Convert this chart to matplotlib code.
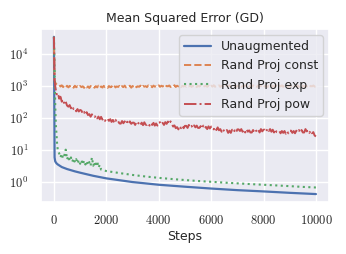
import numpy as np
import matplotlib
matplotlib.use("Agg")
import matplotlib.pyplot as plt
from matplotlib.ticker import FuncFormatter, LogLocator
import seaborn as sns

# steps grid for the noisy curves (every 50 steps)
steps_noisy = [0, 25] + list(range(50, 10001, 50))

pow_mse = [35000, 1500,
           1000, 560, 620, 410, 470, 330, 380, 280, 330, 250,
           230, 259, 205, 241, 193, 203, 165, 194, 163, 182,
           174, 140, 159, 129, 155, 126, 135, 112, 133, 112,
           108, 122, 99, 113, 93, 111, 91, 99, 83, 99,
           97, 83, 94, 77, 89, 74, 90, 74, 81, 69,
           68, 82, 70, 80, 67, 78, 66, 80, 67, 73,
           73, 62, 75, 66, 75, 63, 73, 61, 75, 63,
           62, 69, 59, 71, 62, 72, 59, 69, 59, 74,
           75, 64, 72, 62, 76, 67, 79, 67, 80, 67,
           55, 60, 49, 53, 45, 57, 49, 58, 49, 58,
           58, 50, 62, 53, 58, 50, 60, 52, 59, 50,
           50, 57, 48, 59, 49, 54, 46, 56, 48, 55,
           55, 45, 52, 43, 52, 42, 46, 38, 46, 39,
           38, 43, 35, 41, 35, 44, 37, 42, 36, 45,
           45, 40, 46, 38, 44, 36, 45, 38, 42, 36,
           36, 43, 37, 43, 37, 43, 36, 46, 39, 44,
           44, 38, 47, 40, 46, 38, 44, 36, 45, 37,
           37, 40, 34, 40, 35, 40, 33, 39, 34, 41,
           41, 35, 40, 34, 41, 37, 43, 36, 43, 36,
           36, 46, 39, 42, 35, 41, 34, 37, 29, 27]

const_mse = [35000, 1600,
             1300, 1150, 1080, 1120, 980, 1070, 940, 1050, 930, 1040,
             920, 1030, 950, 1010, 900, 1040, 930, 1000, 910, 1020,
             940, 1000, 890, 1030, 920, 990, 880, 1020, 930, 980,
             900, 1010, 920, 1040, 890, 990, 910, 1030, 940, 980,
             890, 1020, 930, 1000, 900, 1040, 920, 990, 950, 1030,
             910, 1010, 940, 1050, 920, 990, 960, 1040, 900, 1020,
             950, 1060, 930, 1000, 960, 1050, 920, 1030, 970, 1010,
             940, 1060, 960, 1020, 930, 1050, 970, 1000, 950, 1070,
             960, 1040, 980, 1070, 940, 1030, 990, 1060, 950, 1020,
             970, 1080, 950, 1040, 990, 1060, 940, 1030, 980, 1070,
             960, 1050, 990, 1080, 950, 1030, 970, 1060, 940, 1040,
             980, 1070, 950, 1020, 990, 1060, 960, 1040, 930, 1050,
             970, 1080, 960, 1030, 990, 1070, 950, 1040, 980, 1060,
             950, 1050, 990, 1080, 960, 1030, 970, 1070, 940, 1040,
             980, 1060, 950, 1030, 990, 1080, 960, 1050, 970, 1040,
             960, 1070, 980, 1040, 950, 1060, 990, 1030, 960, 1070,
             970, 1050, 940, 1040, 990, 1080, 960, 1030, 980, 1060,
             950, 1040, 990, 1070, 960, 1050, 970, 1030, 940, 1060,
             980, 1070, 960, 1040, 990, 1060, 950, 1030, 970, 1050,
             960, 1040, 980, 1070, 950, 1030, 990, 1060, 970, 1000]

steps_exp = ([0, 25, 50, 75, 100, 125, 150] + list(range(200, 1801, 50))
             + list(range(2000, 10001, 500)))
exp_mse = [35000, 3000, 250, 60, 30, 14, 10,
           8.0, 6.0, 7.8, 5.6, 7.0, 10.5, 5.2, 6.6, 4.7, 6.0, 4.4, 5.6, 4.2,
           5.3, 3.9, 5.0, 3.8, 4.9, 3.6, 4.7, 3.6, 4.6, 3.4, 4.3, 3.3, 6.0,
           3.3, 4.4, 3.1, 4.6, 2.9, 3.5, 2.5,
           2.25, 1.95, 1.7, 1.52, 1.38, 1.27, 1.18, 1.1, 1.04, 0.98, 0.93,
           0.88, 0.84, 0.8, 0.76, 0.72, 0.69]

steps_unaug = [0, 25, 50, 100, 150, 300, 500, 800, 1000, 1500, 2000, 3000,
               4000, 5000, 6000, 7000, 8000, 9000, 10000]
unaug_mse = [35000, 6.0, 4.5, 3.9, 3.6, 3.0, 2.6, 2.2, 2.0, 1.6, 1.33, 1.02,
             0.84, 0.73, 0.64, 0.57, 0.52, 0.47, 0.43]

sns.set_theme(style="darkgrid")
plt.rcParams["mathtext.fontset"] = "cm"

fig = plt.figure(figsize=(3.46, 2.54), dpi=100)
ax = fig.add_axes([0.118, 0.205, 0.833, 0.681])

pal = sns.color_palette("deep")
ax.plot(steps_unaug, unaug_mse, color=pal[0], lw=1.6, label="Unaugmented")
ax.plot(steps_noisy, const_mse, color=pal[1], lw=1.4, ls="--", label="Rand Proj const")
ax.plot(steps_exp, exp_mse, color=pal[2], lw=1.5, ls=":", label="Rand Proj exp")
ax.plot(steps_noisy, pow_mse, color=pal[3], lw=1.4, ls="-.", label="Rand Proj pow")

ax.set_yscale("log")
ax.yaxis.set_major_locator(LogLocator(base=10, numticks=10))
ax.yaxis.set_major_formatter(FuncFormatter(lambda v, p: r"$10^{%d}$" % round(np.log10(v))))
ax.xaxis.set_major_formatter(FuncFormatter(lambda v, p: r"$%d$" % v))
ax.set_xticks([0, 2000, 4000, 6000, 8000, 10000])
ax.tick_params(labelsize=9, pad=3)
ax.set_xlabel("Steps", fontsize=9, labelpad=2)
ax.set_title("Mean Squared Error (GD)", fontsize=9, pad=5)
ax.legend(loc="upper right", fontsize=9, handlelength=2.1, handletextpad=0.8,
          borderpad=0.4, labelspacing=0.5, borderaxespad=0.5)

fig.savefig("out.png", dpi=100)
